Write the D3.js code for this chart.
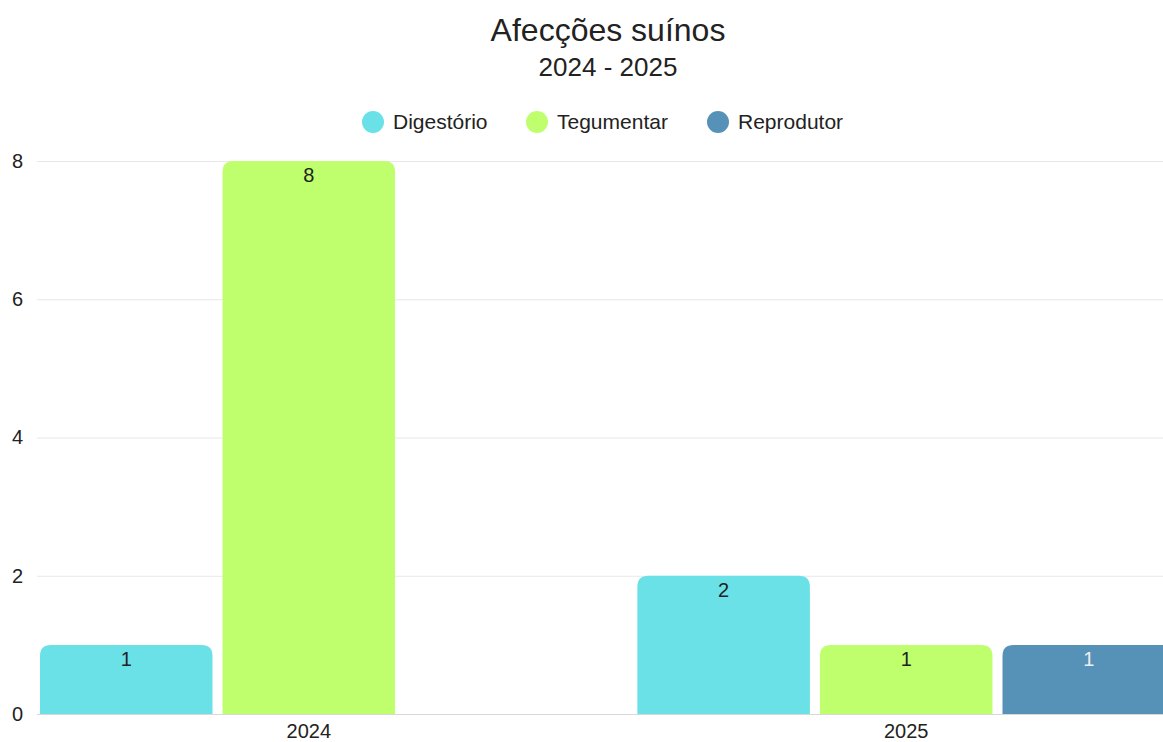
<!DOCTYPE html>
<html lang="pt">
<head>
<meta charset="utf-8">
<style>
  body { margin:0; padding:0; background:#ffffff; overflow:hidden; }
  text { font-family: "Liberation Sans", Arial, sans-serif; fill:#222; }
</style>
</head>
<body>
<svg id="chart" width="1163" height="742"></svg>
<script src="https://cdn.jsdelivr.net/npm/d3@7"></script>
<script>
// dados
var years = ["2024", "2025"];
var series = ["Digestório", "Tegumentar", "Reprodutor"];
var colors = ["#69e1e6", "#bfff6e", "#5692b7"];
var labelColors = ["#222222", "#222222", "#eeeeee"];
var digestorio = [1, 2];
var tegumentar = [8, 1];
var reprodutor = [0, 1];
var yTicks = [0, 2, 4, 6, 8];

var values = [digestorio, tegumentar, reprodutor];

var svg = d3.select("#chart");
var plotLeft = 37, plotRight = 1178, plotTop = 161, plotBottom = 714;

var x0 = d3.scaleBand().domain(years).range([plotLeft, plotRight]).paddingInner(0.1).paddingOuter(0.005);
var x1 = d3.scaleBand().domain(series).range([0, x0.bandwidth()]).paddingInner(0.055);
var y = d3.scaleLinear().domain([0, 8]).range([plotBottom, plotTop]);

// titulo
svg.append("text").attr("x", 608).attr("y", 41).attr("text-anchor", "middle")
  .style("font-size", "32px").text("Afecções suínos");
svg.append("text").attr("x", 608).attr("y", 76).attr("text-anchor", "middle")
  .style("font-size", "26px").text("2024 - 2025");

// legenda
var legX = [373, 537, 718];
var leg = svg.append("g").selectAll("g").data(series).enter().append("g")
  .attr("transform", function(d, i){ return "translate(" + legX[i] + ",122)"; });
leg.append("circle").attr("r", 11).attr("fill", function(d, i){ return colors[i]; });
leg.append("text").attr("x", 20).attr("dy", "0.35em").style("font-size", "21px").text(function(d){ return d; });

// grade
svg.append("g").selectAll("line").data(yTicks).enter().append("line")
  .attr("x1", plotLeft).attr("x2", 1163)
  .attr("y1", function(d){ return y(d) + 0.5; }).attr("y2", function(d){ return y(d) + 0.5; })
  .attr("stroke", function(d){ return d === 0 ? "#d8d8d8" : "#e8e8e8"; })
  .attr("stroke-width", 1);

// eixo y
var yAxis = svg.append("g").attr("transform", "translate(23,0)")
  .call(d3.axisLeft(y).tickValues(yTicks).tickSize(0).tickPadding(0));
yAxis.select(".domain").remove();
yAxis.selectAll("text").style("font-size", "20px").attr("fill", "#222");

// eixo x
var xAxis = svg.append("g").attr("transform", "translate(0," + plotBottom + ")")
  .call(d3.axisBottom(x0).tickSize(0).tickPadding(10));
xAxis.select(".domain").remove();
xAxis.selectAll("text").style("font-size", "20px").attr("fill", "#222");

// barras
function topRounded(x, yTop, w, h, r){
  r = Math.min(r, h, w / 2);
  return "M" + x + "," + (yTop + h) +
    "V" + (yTop + r) +
    "Q" + x + "," + yTop + " " + (x + r) + "," + yTop +
    "H" + (x + w - r) +
    "Q" + (x + w) + "," + yTop + " " + (x + w) + "," + (yTop + r) +
    "V" + (yTop + h) + "Z";
}

var cells = [];
years.forEach(function(yr, j){
  series.forEach(function(s, i){
    if (values[i][j] > 0) cells.push({year: yr, s: s, i: i, v: values[i][j]});
  });
});

svg.append("g").selectAll("path").data(cells).enter().append("path")
  .attr("fill", function(d){ return colors[d.i]; })
  .attr("d", function(d){
    var bx = x0(d.year) + x1(d.s);
    return topRounded(bx, y(d.v), x1.bandwidth(), y(0) - y(d.v), 11);
  });

svg.append("g").selectAll("text").data(cells).enter().append("text")
  .attr("x", function(d){ return x0(d.year) + x1(d.s) + x1.bandwidth() / 2; })
  .attr("y", function(d){ return y(d.v) + 21; })
  .attr("text-anchor", "middle")
  .style("font-size", "20px")
  .style("fill", function(d){ return labelColors[d.i]; })
  .text(function(d){ return d.v; });
</script>
</body>
</html>
